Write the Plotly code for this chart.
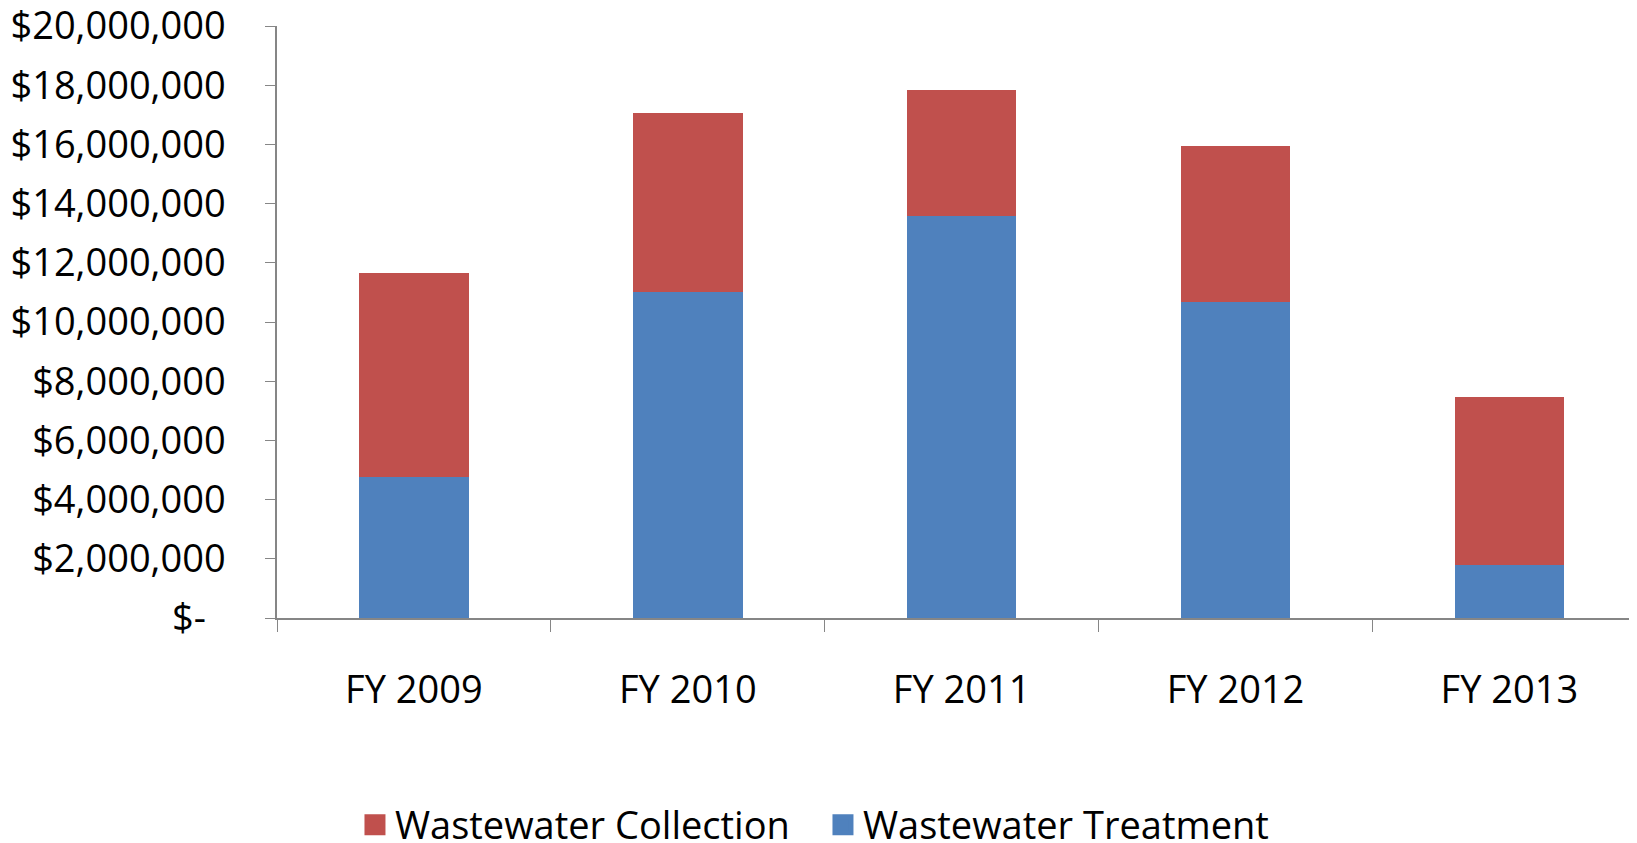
import plotly.graph_objects as go

categories = ["FY 2009", "FY 2010", "FY 2011", "FY 2012", "FY 2013"]
treatment = [4760000, 11000000, 13580000, 10690000, 1800000]
collection = [6880000, 6070000, 4270000, 5250000, 5680000]
tick_vals = [0, 2000000, 4000000, 6000000, 8000000, 10000000, 12000000, 14000000, 16000000, 18000000, 20000000]
tick_text = ["$-\u00a0\u00a0", "$2,000,000", "$4,000,000", "$6,000,000", "$8,000,000", "$10,000,000",
             "$12,000,000", "$14,000,000", "$16,000,000", "$18,000,000", "$20,000,000"]

RED = "#C0504D"
BLUE = "#4F81BD"
AXIS = "#868686"
FONT = "Open Sans"

fig = go.Figure()
fig.add_trace(go.Bar(x=categories, y=treatment, name="Wastewater Treatment",
                     marker=dict(color=BLUE, line=dict(width=0)), showlegend=False))
fig.add_trace(go.Bar(x=categories, y=collection, name="Wastewater Collection",
                     marker=dict(color=RED, line=dict(width=0)), showlegend=False))
# legend entries
fig.add_trace(go.Scatter(x=[None], y=[None], mode="markers", name="Wastewater Collection",
                         marker=dict(symbol="square", size=16, color=RED, line=dict(color=RED, width=5))))
fig.add_trace(go.Scatter(x=[None], y=[None], mode="markers", name="Wastewater Treatment",
                         marker=dict(symbol="square", size=16, color=BLUE, line=dict(color=BLUE, width=5))))

fig.update_layout(
    width=1629, height=835,
    barmode="stack", bargap=0.6,
    plot_bgcolor="white", paper_bgcolor="white",
    margin=dict(l=269, r=0, t=18, b=225),
    font=dict(family=FONT, size=38, color="black"),
    legend=dict(orientation="h", xref="container", yref="container",
                x=0.213, xanchor="left", y=0.0216, yanchor="middle",
                font=dict(size=38), itemwidth=30, traceorder="normal",
                entrywidth=423, entrywidthmode="pixels"),
)
fig.update_xaxes(
    type="category", range=[-0.5, 4.466], automargin=False,
    showline=True, linecolor=AXIS, linewidth=1.5,
    ticks="outside", tickson="boundaries", ticklen=12, tickcolor=AXIS, tickwidth=1,
    ticklabelstandoff=38, showgrid=False, zeroline=False,
)
fig.update_yaxes(
    range=[0, 20000000], tickvals=tick_vals, ticktext=tick_text, automargin=False,
    ticklabeloverflow="allow",
    showline=True, linecolor=AXIS, linewidth=1.5,
    ticks="outside", ticklen=10, tickcolor=AXIS, tickwidth=1,
    ticklabelstandoff=32, showgrid=False, zeroline=False,
)

fig.write_html("out.html")
